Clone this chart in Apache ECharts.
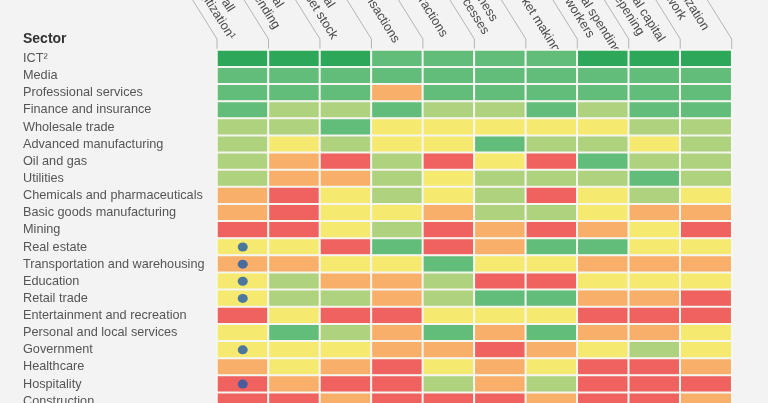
<!DOCTYPE html>
<html>
<head>
<meta charset="utf-8">
<script src="https://cdn.jsdelivr.net/npm/echarts@6/dist/echarts.min.js"></script>
<style>
html,body{margin:0;padding:0;background:#f3f3f3;overflow:hidden;}
#c{width:768px;height:416px;}
</style>
</head>
<body>
<div id="c"></div>
<script>
// ---- data ----
const sectors = [
  'ICT\u00b2', 'Media', 'Professional services', 'Finance and insurance', 'Wholesale trade',
  'Advanced manufacturing', 'Oil and gas', 'Utilities', 'Chemicals and pharmaceuticals',
  'Basic goods manufacturing', 'Mining', 'Real estate', 'Transportation and warehousing',
  'Education', 'Retail trade', 'Entertainment and recreation', 'Personal and local services',
  'Government', 'Healthcare', 'Hospitality', 'Construction'
];
const metrics = [
  'Overall\ndigitization\u00b9', 'Digital\nspending', 'Digital\nasset stock', 'Transactions',
  'Interactions', 'Business\nprocesses', 'Market making', 'Digital spending\non workers',
  'Digital capital\ndeepening', 'Digitization\nof work'
];
// digitization level: 6 = highest (dark green) ... 1 = lowest (red)
const levels = [
  [6,6,6,5,5,5,5,6,6,6], // ICT
  [5,5,5,5,5,5,5,5,5,5], // Media
  [5,5,5,2,5,5,5,5,5,5], // Professional services
  [5,4,4,5,4,4,5,4,5,5], // Finance and insurance
  [4,4,5,3,3,3,3,3,4,4], // Wholesale trade
  [4,3,4,3,3,5,4,4,3,4], // Advanced manufacturing
  [4,2,1,4,1,3,1,5,4,4], // Oil and gas
  [4,2,2,4,3,4,4,4,5,4], // Utilities
  [2,1,3,4,3,4,1,3,4,3], // Chemicals and pharmaceuticals
  [2,1,3,3,2,4,4,3,2,2], // Basic goods manufacturing
  [1,1,3,4,1,2,1,2,3,1], // Mining
  [3,3,1,5,1,2,5,5,3,3], // Real estate
  [2,2,3,3,5,3,3,2,2,2], // Transportation and warehousing
  [3,4,2,2,4,1,1,3,3,3], // Education
  [3,4,4,2,4,5,5,2,2,1], // Retail trade
  [1,3,1,1,3,3,3,1,1,1], // Entertainment and recreation
  [3,5,4,2,5,2,5,2,2,3], // Personal and local services
  [3,3,3,2,2,1,2,3,4,3], // Government
  [2,3,2,1,3,2,3,1,1,2], // Healthcare
  [1,2,1,1,4,2,4,1,1,1], // Hospitality
  [1,1,2,1,1,1,2,1,1,2]  // Construction
];
const dotSectors = ['Real estate', 'Transportation and warehousing', 'Education', 'Retail trade', 'Government', 'Hospitality'];

// ---- layout ----
const GL = 217, GT = 50, GW = 514.7, GH = 359.8;
const colW = GW / metrics.length;
const ang = 58 * Math.PI / 180;
const d = [Math.cos(ang), Math.sin(ang)];   // text direction (down-right)
const n = [Math.sin(ang), -Math.cos(ang)];  // perpendicular (up-right)
const kinkY = 39;

const heatData = [];
levels.forEach((row, r) => row.forEach((v, c) => heatData.push([c, r, v])));
const dotData = dotSectors.map(s => [0, sectors.indexOf(s)]);

const graphics = [];
graphics.push({
  type: 'text', left: 23, top: 32,
  style: { text: 'Sector', fontSize: 14, fontWeight: 'bold', fill: '#333', fontFamily: 'Liberation Sans' }
});
for (let i = 0; i <= metrics.length; i++) {
  const xb = GL + i * colW;
  const t = kinkY / d[1];
  graphics.push({
    type: 'polyline', silent: true,
    shape: { points: [[xb - t * d[0], 0], [xb, kinkY], [xb, GT]] },
    style: { stroke: '#b4b4b4', lineWidth: 1, fill: null }
  });
}
const s0 = -56.5, pc = 20;
metrics.forEach((m, i) => {
  const xb = GL + i * colW;
  const ox = xb + s0 * d[0] + pc * n[0];
  const oy = kinkY + s0 * d[1] + pc * n[1];
  graphics.push({
    type: 'text', x: ox, y: oy, rotation: -ang, silent: true,
    style: {
      text: m, x: 0, y: 0, align: 'left', verticalAlign: 'middle',
      fontSize: 12.7, lineHeight: 14, fill: '#4a4a4a', fontFamily: 'Liberation Sans'
    }
  });
});

const chart = echarts.init(document.getElementById('c'));
chart.setOption({
  backgroundColor: '#f3f3f3',
  animation: false,
  grid: { left: GL, top: GT, width: GW, height: GH },
  xAxis: { type: 'category', data: metrics, show: false },
  yAxis: {
    type: 'category', data: sectors, inverse: true,
    axisLine: { show: false }, axisTick: { show: false }, splitLine: { show: false },
    axisLabel: { interval: 0, align: 'left', margin: GL - 23, color: '#555', fontSize: 12.7, fontFamily: 'Liberation Sans' }
  },
  visualMap: {
    type: 'piecewise', show: false, dimension: 2, seriesIndex: 0,
    pieces: [
      { value: 1, color: '#ef6260' },
      { value: 2, color: '#f8af69' },
      { value: 3, color: '#f5e970' },
      { value: 4, color: '#afd27e' },
      { value: 5, color: '#62bd7b' },
      { value: 6, color: '#2da85b' }
    ]
  },
  series: [
    {
      type: 'heatmap', data: heatData,
      itemStyle: { borderColor: '#f6f6f0', borderWidth: 2 },
      emphasis: { disabled: true }
    },
    {
      type: 'scatter', data: dotData, symbol: 'circle', symbolSize: [10, 9],
      itemStyle: { color: '#1f5aa6' }, z: 5
    }
  ],
  graphic: graphics
});
</script>
</body>
</html>
